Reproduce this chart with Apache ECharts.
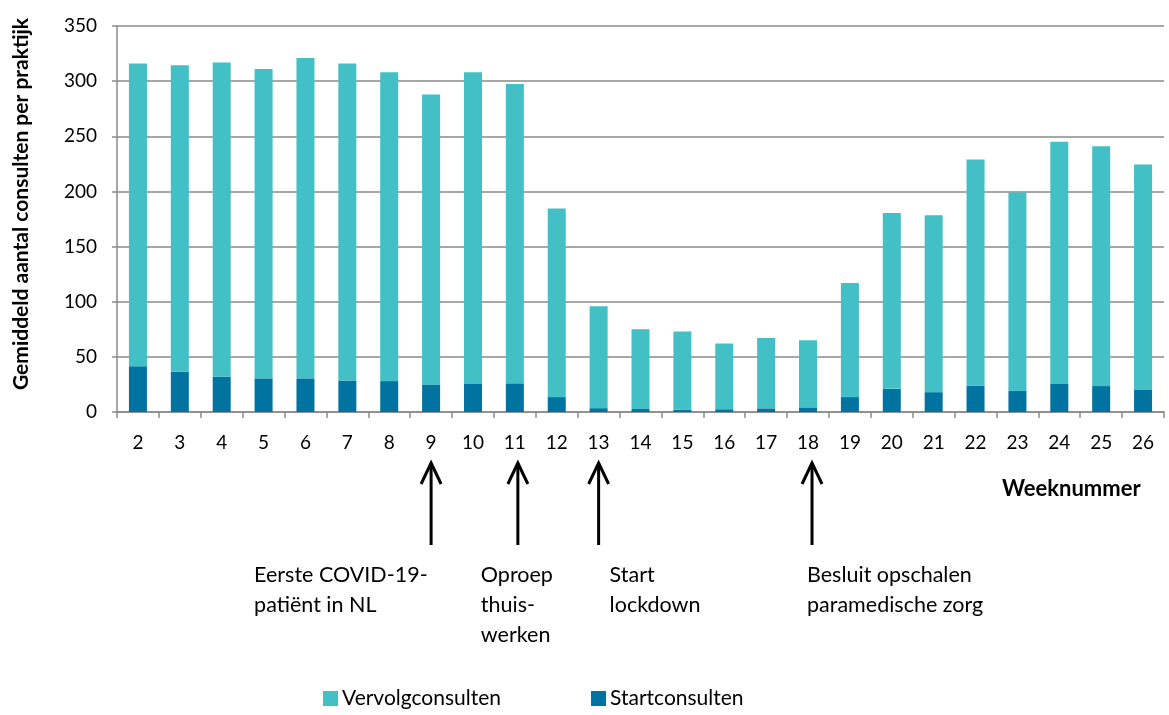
<!DOCTYPE html>
<html><head><meta charset="utf-8">
<script src="https://cdn.jsdelivr.net/npm/echarts@6/dist/echarts.min.js"></script>
<style>html,body{margin:0;padding:0;background:#fff}#c{width:1169px;height:715px}</style>
</head><body><div id="c"></div>
<script>
const weeks = ['2','3','4','5','6','7','8','9','10','11','12','13','14','15','16','17','18','19','20','21','22','23','24','25','26'];
const startconsulten = [41.5,36.5,32,30.5,30.5,28.5,28,25,25.5,26,13.5,3.5,2.7,2.1,2.5,3.3,4.2,13.5,21,18,24,19,25.5,23.5,20.5];
const totaal = [316,314.5,317,311,321,316,308,288,308,297.5,184.5,96,75,73,62,67,65,117,180.5,178.5,229,199,245,241,224.5];
const vervolgconsulten = totaal.map((t,i)=>+(t-startconsulten[i]).toFixed(1));
const yTicks = [0,350,50];
const annotations = [
  {week:'9', lines:['Eerste COVID-19-','patiënt in NL'], dx:-177, ax:0},
  {week:'11', lines:['Oproep','thuis-','werken'], dx:-34, ax:3},
  {week:'13', lines:['Start','lockdown'], dx:11, ax:0},
  {week:'18', lines:['Besluit opschalen','paramedische zorg'], dx:-1, ax:4}
];
const FONT = 'Lato';
const chart = echarts.init(document.getElementById('c'));
chart.setOption({
  animation:false,
  textStyle:{fontFamily:FONT},
  grid:{left:117,right:5,top:26,bottom:303},
  legend:{bottom:1,left:318,itemWidth:15,itemHeight:15,itemGap:90,icon:'rect',
    data:['Vervolgconsulten','Startconsulten'],
    textStyle:{fontSize:21,color:'#000',fontFamily:FONT,padding:[0,0,0,-1]}},
  xAxis:{type:'category',data:weeks,
    axisLine:{lineStyle:{color:'#8a8a8a',width:1.5}},
    axisTick:{show:true,interval:0,length:6,lineStyle:{color:'#8a8a8a',width:1.5}},
    axisLabel:{fontSize:19,color:'#000',margin:21,interval:0}},
  yAxis:{type:'value',min:yTicks[0],max:yTicks[1],interval:yTicks[2],
    axisLine:{show:true,lineStyle:{color:'#8a8a8a',width:1.5}},
    axisTick:{show:true,length:5,lineStyle:{color:'#8a8a8a',width:1.5}},
    axisLabel:{fontSize:19,color:'#000',margin:20},
    splitLine:{lineStyle:{color:'#8a8a8a',width:1.5}}},
  series:[
    {name:'Startconsulten',type:'bar',stack:'t',data:startconsulten,barWidth:'43%',
      itemStyle:{color:'#0073A1'}},
    {name:'Vervolgconsulten',type:'bar',stack:'t',data:vervolgconsulten,barWidth:'43%',
      itemStyle:{color:'#42C0C6'}}
  ]
});
const g = [];
g.push({type:'text',x:21,y:204,rotation:Math.PI/2,
  style:{text:'Gemiddeld aantal consulten per praktijk',font:'bold 21px '+FONT,fill:'#000',align:'center',verticalAlign:'middle'}});
g.push({type:'text',left:1002,top:478,style:{text:'Weeknummer',font:'bold 22px '+FONT,fill:'#000'}});
annotations.forEach(a=>{
  const c = chart.convertToPixel({xAxisIndex:0}, a.week);
  const x = c + a.ax;
  g.push({type:'line',shape:{x1:x,y1:545,x2:x,y2:463},style:{stroke:'#000',lineWidth:3}});
  g.push({type:'polyline',shape:{points:[[x-10,484],[x,463],[x+10,484]]},style:{stroke:'#000',lineWidth:3,fill:null}});
  g.push({type:'text',left:c+a.dx,top:560,style:{text:a.lines.join('\n'),font:'21.5px '+FONT,fill:'#000',lineHeight:30}});
});
chart.setOption({graphic:g});
</script></body></html>
